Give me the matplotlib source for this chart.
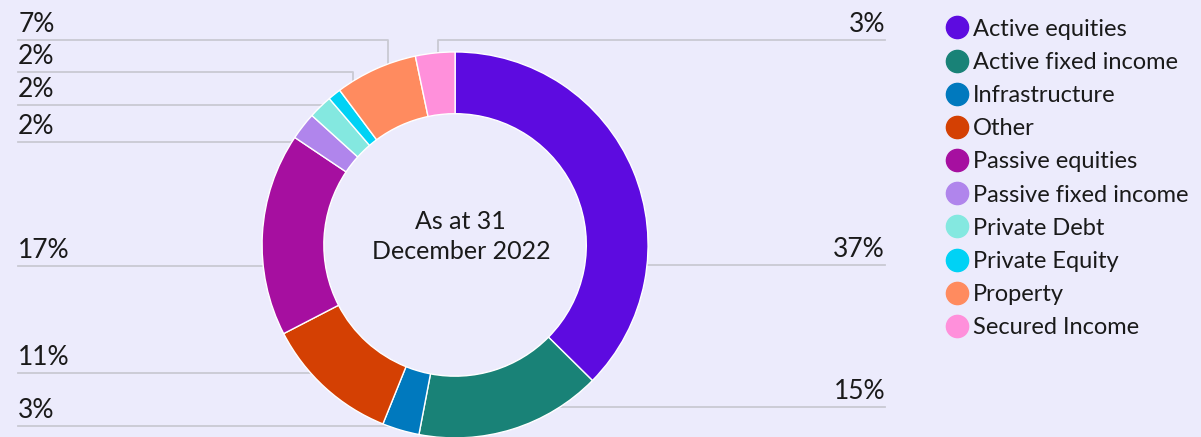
import matplotlib.pyplot as plt
import numpy as np
from matplotlib.lines import Line2D

# data (share of the wedge, in %)
categories = ["Active equities", "Active fixed income", "Infrastructure", "Other",
              "Passive equities", "Passive fixed income", "Private Debt",
              "Private Equity", "Property", "Secured Income"]
shares = [37.4, 15.6, 3.1, 11.3, 17.0, 2.3, 2.0, 1.1, 6.9, 3.3]
pct_labels = ["37%", "15%", "3%", "11%", "17%", "2%", "2%", "2%", "7%", "3%"]
colors = ["#5d0be0", "#198277", "#0079be", "#d44003", "#a60fa0",
          "#b085ec", "#84e8e0", "#00d2f5", "#ff8b5f", "#ff90db"]

# where each label sits: side and line height (data units, pie radius = 1)
label_side = ["R", "R", "L", "L", "L", "L", "L", "L", "L", "R"]
label_y = [-0.104, -0.839, -0.938, -0.663, -0.109, 0.534, 0.725, 0.896, 1.062, 1.062]

BG = "#ecebfc"
LINE = "#c9c9d3"
plt.rcParams['font.family'] = ['Lato', 'DejaVu Sans']

fig = plt.figure(figsize=(12.01, 4.37), dpi=100, facecolor=BG)
ax = fig.add_axes([0, 0, 1, 1])
ax.set_facecolor(BG)

wedges, _ = ax.pie(shares, colors=colors, startangle=90, counterclock=False,
                   radius=1.0, wedgeprops=dict(width=0.32, edgecolor="white", linewidth=1))
for w in wedges:
    w.set_zorder(3)

ax.set_xlim(-2.358, 3.865)
ax.set_ylim(-0.995, 1.269)
ax.set_aspect("equal")
ax.axis("off")

x_left, x_right = -2.264, 2.228
cum = np.cumsum([0] + shares)
for i, txt in enumerate(pct_labels):
    mid = (cum[i] + cum[i + 1]) / 2 / 100 * 2 * np.pi
    ax_x, ax_y = 0.85 * np.sin(mid), 0.85 * np.cos(mid)
    y = label_y[i]
    if label_side[i] == "L":
        ax.plot([x_left, ax_x, ax_x], [y, y, ax_y], color=LINE, lw=1.3, zorder=1)
        ax.text(x_left, y + 0.015, txt, ha="left", va="bottom", fontsize=19, color="#1a1a1a")
    else:
        ax.plot([x_right, ax_x, ax_x], [y, y, ax_y], color=LINE, lw=1.3, zorder=1)
        ax.text(x_right, y + 0.015, txt, ha="right", va="bottom", fontsize=19, color="#1a1a1a")

ax.text(0.03, 0.045, "As at 31\nDecember 2022", ha="center", va="center",
        fontsize=18, color="#1a1a1a", linespacing=1.35)

handles = [Line2D([], [], marker="o", linestyle="", markersize=16,
                  markerfacecolor=c, markeredgecolor=c) for c in colors]
fig.legend(handles, categories, loc="upper left", bbox_to_anchor=(0.771, 0.995),
           frameon=False, fontsize=17, handletextpad=0.1, labelspacing=0.515,
           handlelength=1.2, borderaxespad=0.3, labelcolor="#1a1a1a")

fig.savefig("out.png", dpi=100, facecolor=BG)
